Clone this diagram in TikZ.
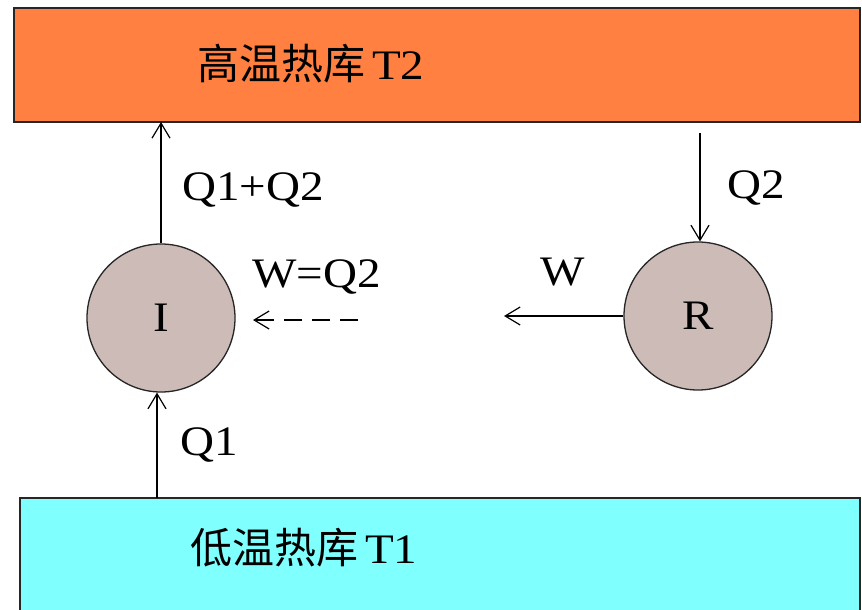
\documentclass[tikz,border=0pt]{standalone}
\usepackage{fontspec}
\setmainfont[FakeStretch=1.12]{Liberation Serif}
\newfontfamily\cjk{Noto Sans CJK SC}
\usetikzlibrary{arrows.meta}
\definecolor{hotres}{RGB}{255,128,64}
\definecolor{coldres}{RGB}{128,255,255}
\definecolor{engine}{RGB}{204,187,182}
\tikzset{
  reservoir/.style={draw=black!85, line width=1.6pt},
  machine/.style={circle, draw=black!85, line width=1.3pt, fill=engine,
    minimum size=148pt, inner sep=0pt, font=\fontsize{42}{46}\selectfont},
  flow/.style={line width=1.2pt, -{Straight Barb[length=15pt,width=18pt]}},
  lbl/.style={inner sep=0pt, anchor=base west, font=\fontsize{42}{46}\selectfont},
  title/.style={inner sep=0pt, anchor=base west, font=\fontsize{42}{46}\selectfont}
}
\begin{document}
\begin{tikzpicture}[x=1pt,y=-1pt]
  \useasboundingbox (0,0) rectangle (862,610);
  \fill[white] (0,0) rectangle (862,610);

  % heat reservoirs
  \draw[reservoir, fill=hotres] (14,8) rectangle (860,122);
  \draw[reservoir, fill=coldres] (20,498) rectangle (860,614);
  \node[title] (hot) at (197,80) {{\cjk 高温热库}\,T2};
  \node[title] (cold) at (190,563) {{\cjk 低温热库}\,T1};

  % engines
  \node[machine] (I) at (161,318) {I};
  \node[machine] (R) at (698,316) {R};

  % heat flows
  \coordinate (hotI) at (161,122);
  \coordinate (hotR) at (700,133);
  \coordinate (coldI) at (157,498);
  \draw[flow] (I.north) -- (hotI);
  \draw[flow] (hotR) -- (R.north -| hotR);
  \draw[flow] (coldI) -- (I.south -| coldI);

  % work
  \coordinate (wEnd) at (504,316);
  \coordinate (wdStart) at (358,320);
  \coordinate (wdEnd) at (253,320);
  \draw[flow] (R.west) -- (wEnd);
  \draw[flow, dash pattern=on 18pt off 10pt] (wdStart) -- (wdEnd);

  % labels
  \node[lbl] (lq12) at (182,200) {Q1+Q2};
  \node[lbl] (lq2) at (727,198) {Q2};
  \node[lbl] (lwq) at (252,287) {W=Q2};
  \node[lbl] (lw) at (540,285) {W};
  \node[lbl] (lq1) at (180,455) {Q1};
\end{tikzpicture}
\end{document}
